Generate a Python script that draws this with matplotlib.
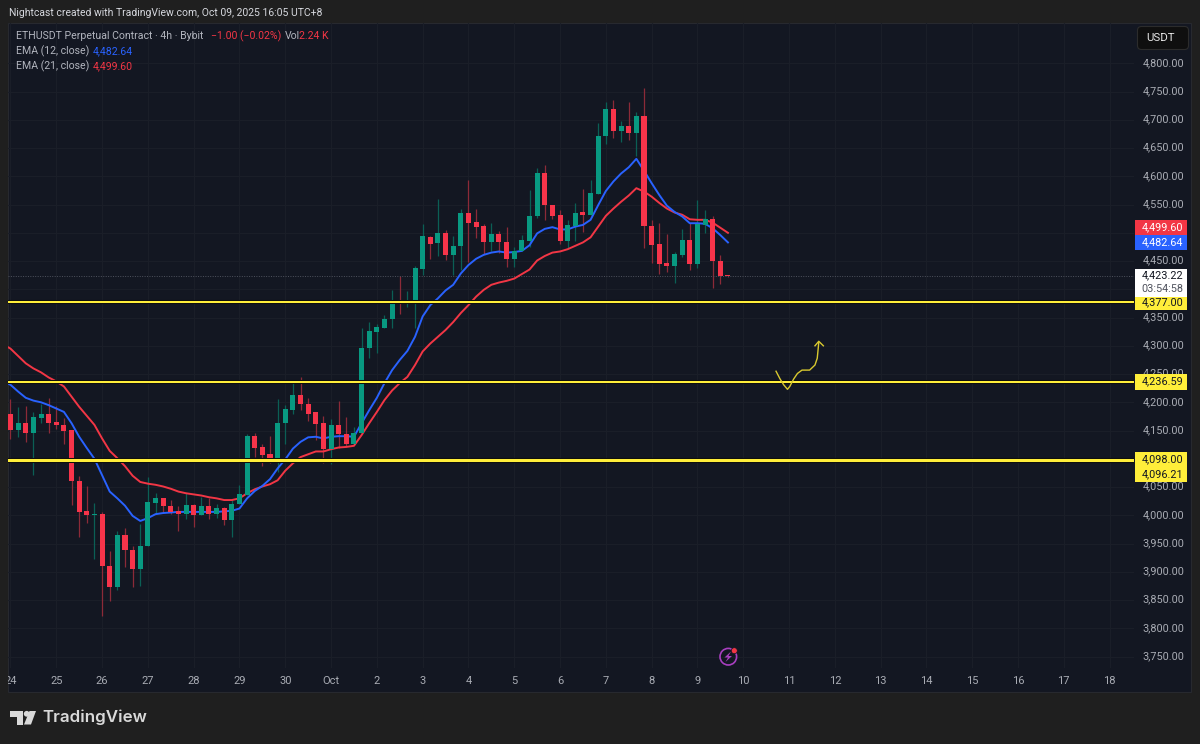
import numpy as np
import matplotlib
matplotlib.use("Agg")
import matplotlib.pyplot as plt
from matplotlib.patches import Rectangle, FancyBboxPatch, Circle, Polygon
from matplotlib.transforms import ScaledTranslation

plt.rcParams['font.family'] = ['Roboto', 'DejaVu Sans']

# 4h candles, first one is Sep 24 00:00
opens = [4179, 4151, 4163, 4146, 4173, 4180, 4165, 4160, 4151, 4061, 4007, 4001, 4002, 3911, 3873, 3966,
         3939, 3905, 3945, 4022, 4031, 4017, 4007, 4002, 4018, 4001, 4017, 4002, 4013, 3992, 4020, 4036,
         4140, 4121, 4108, 4101, 4163, 4186, 4213, 4197, 4182, 4163, 4117, 4159, 4144, 4127, 4145, 4296,
         4325, 4332, 4347, 4378, 4375, 4378, 4436, 4493, 4482, 4500, 4461, 4477, 4535, 4519, 4512, 4484,
         4498, 4483, 4453, 4467, 4486, 4530, 4606, 4549, 4531, 4485, 4512, 4536, 4531, 4569, 4671, 4720,
         4681, 4689, 4677, 4707, 4512, 4480, 4446, 4442, 4461, 4487, 4445, 4514, 4525, 4450, 4424]
closes = [4151, 4163, 4146, 4174, 4180, 4163, 4159, 4150, 4061, 4006, 4001, 4002, 3911, 3873, 3965, 3939,
          3905, 3945, 4023, 4031, 4017, 4006, 4002, 4018, 4001, 4017, 4002, 4013, 3992, 4020, 4038, 4140,
          4120, 4107, 4101, 4164, 4188, 4213, 4197, 4180, 4162, 4117, 4159, 4144, 4127, 4145, 4297, 4326,
          4333, 4347, 4377, 4375, 4378, 4437, 4494, 4481, 4500, 4460, 4477, 4535, 4517, 4511, 4484, 4498,
          4483, 4453, 4467, 4487, 4530, 4606, 4549, 4530, 4485, 4513, 4535, 4532, 4570, 4671, 4720, 4681,
          4689, 4677, 4707, 4512, 4479, 4445, 4442, 4462, 4487, 4445, 4515, 4525, 4450, 4424, 4423]
highs = [4206, 4191, 4193, 4183, 4197, 4207, 4193, 4172, 4151, 4070, 4052, 4022, 4006, 3937, 3973, 3977,
         3946, 3985, 4068, 4040, 4031, 4027, 4017, 4039, 4020, 4033, 4030, 4020, 4015, 4027, 4054, 4144,
         4145, 4126, 4140, 4206, 4195, 4235, 4245, 4207, 4183, 4176, 4170, 4202, 4174, 4157, 4331, 4343,
         4338, 4354, 4399, 4424, 4397, 4442, 4516, 4495, 4559, 4505, 4495, 4542, 4594, 4542, 4516, 4517,
         4504, 4511, 4475, 4496, 4575, 4614, 4620, 4550, 4540, 4523, 4552, 4578, 4593, 4694, 4732, 4735,
         4698, 4731, 4713, 4756, 4523, 4517, 4498, 4466, 4506, 4517, 4558, 4540, 4530, 4461, 4425]
lows = [4135, 4138, 4129, 4072, 4164, 4145, 4153, 4127, 4019, 3961, 3987, 3922, 3822, 3848, 3867, 3908,
        3873, 3875, 3945, 4002, 4005, 4002, 3972, 3994, 3980, 4000, 3994, 3996, 3982, 3962, 4020, 4036,
        4103, 4087, 4093, 4077, 4126, 4180, 4186, 4167, 4133, 4093, 4091, 4120, 4123, 4127, 4145, 4278,
        4287, 4331, 4331, 4356, 4369, 4331, 4425, 4454, 4459, 4452, 4425, 4434, 4449, 4490, 4462, 4468,
        4464, 4439, 4439, 4467, 4475, 4527, 4523, 4524, 4480, 4474, 4486, 4502, 4531, 4569, 4658, 4668,
        4661, 4664, 4636, 4473, 4446, 4427, 4431, 4411, 4458, 4434, 4437, 4499, 4403, 4409, 4422]

# first value sits one candle before the visible range
ema12 = [4238, 4231, 4219, 4208, 4203, 4200, 4195, 4189, 4183, 4163, 4139, 4119, 4100, 4071, 4042, 4030, 4017,
         3999, 3990, 3995, 4002, 4004, 4005, 4006, 4006, 4006, 4006, 4006, 4006, 4007, 4008, 4012, 4030,
         4043, 4052, 4064, 4083, 4099, 4118, 4130, 4138, 4139, 4136, 4139, 4140, 4140, 4139, 4163, 4186,
         4208, 4234, 4257, 4275, 4291, 4316, 4352, 4372, 4384, 4398, 4408, 4428, 4443, 4454, 4461, 4465,
         4467, 4465, 4466, 4468, 4478, 4499, 4507, 4510, 4506, 4506, 4511, 4514, 4523, 4549, 4574, 4591,
         4605, 4616, 4631, 4610, 4588, 4567, 4548, 4537, 4529, 4517, 4517, 4516, 4508, 4496, 4483]
ema21 = [4303, 4295, 4282, 4269, 4260, 4253, 4244, 4237, 4228, 4210, 4192, 4176, 4160, 4136, 4114, 4101, 4087,
         4070, 4059, 4056, 4054, 4051, 4047, 4042, 4039, 4037, 4035, 4032, 4030, 4027, 4027, 4030, 4039,
         4046, 4051, 4055, 4062, 4079, 4092, 4103, 4108, 4113, 4113, 4117, 4120, 4121, 4123, 4142, 4163,
         4183, 4204, 4221, 4234, 4245, 4266, 4290, 4304, 4316, 4328, 4342, 4358, 4372, 4387, 4399, 4408,
         4412, 4415, 4419, 4427, 4435, 4451, 4459, 4465, 4467, 4471, 4477, 4483, 4492, 4511, 4530, 4543,
         4555, 4566, 4579, 4573, 4564, 4553, 4543, 4536, 4532, 4524, 4523, 4523, 4518, 4509, 4500]

day_labels = ['24', '25', '26', '27', '28', '29', '30', 'Oct', '2', '3', '4', '5', '6', '7', '8', '9',
              '10', '11', '12', '13', '14', '15', '16', '17', '18']
price_ticks = [3750, 3800, 3850, 3900, 3950, 4000, 4050, 4150, 4200, 4250, 4300, 4350,
               4450, 4550, 4600, 4650, 4700, 4750, 4800]
levels = [4377.00, 4236.59, 4098.00, 4096.21]
last_price = 4423.22

# hand drawn arrow on the chart, candle index / price
sketch_x = [100.3, 100.8, 101.3, 101.8, 102.1, 102.6, 103.1, 103.7, 104.7, 105.4, 105.7, 105.9]
sketch_y = [4255, 4242, 4231, 4223, 4228, 4241, 4251, 4257, 4257, 4266, 4278, 4306]
arrow_x = [105.4, 105.9, 106.5]
arrow_y = [4300, 4308, 4300]

BG = '#1f1f1f'
PANE = '#131722'
GRID = '#1a1e28'
UP = '#089981'
DOWN = '#f7344a'
UP_WICK = '#0b5f55'
DOWN_WICK = '#8c2a38'
YELLOW = '#ffee3a'
AXIS_TXT = '#a9acb4'
LEGEND_TXT = '#b2b5be'

fig = plt.figure(figsize=(12, 7.44), dpi=100, facecolor=BG)
fig.add_artist(Rectangle((8.3 / 1200, 1 - 692 / 744), (1191 - 8.3) / 1200, (692 - 23) / 744,
                         transform=fig.transFigure, facecolor=PANE, edgecolor='#27292f', lw=0.8, zorder=-1))

ax = fig.add_axes([8.3 / 1200, 1 - 668 / 744, (1134 - 8.3) / 1200, (668 - 23) / 744])
ax.patch.set_visible(False)
for s in ax.spines.values():
    s.set_visible(False)

idx = np.arange(len(closes))
o = np.array(opens, dtype=float)
c = np.array(closes, dtype=float)
is_up = c >= o

ax.vlines(idx, lows, highs, colors=[UP_WICK if u else DOWN_WICK for u in is_up], lw=0.9, zorder=2)
ema_idx = np.arange(len(ema12)) - 1
ax.plot(ema_idx, ema21, color='#f23645', lw=1.4, zorder=3)
ax.plot(ema_idx, ema12, color='#2962ff', lw=1.4, zorder=3)
ax.bar(idx, np.maximum(np.abs(c - o), 2), bottom=np.minimum(o, c), width=0.66,
       color=[UP if u else DOWN for u in is_up], zorder=4)

ax.axhline(last_price, color='#4f535e', lw=0.7, ls=(0, (1, 1.5)), zorder=2)
for lev in levels:
    ax.axhline(lev, color='#06070a', lw=2.9, zorder=5)
for lev in levels:
    ax.axhline(lev, color=YELLOW, lw=1.5, zorder=6)

ax.plot(sketch_x, sketch_y, color='#d9c92f', lw=1.0, zorder=7)
ax.plot(arrow_x, arrow_y, color='#d9c92f', lw=1.0, zorder=7)

ax.set_xlim(-0.288, 147.2)
ax.set_ylim(3729.7, 4871.4)
ax.set_xticks(np.arange(len(day_labels)) * 6)
ax.set_xticklabels(day_labels)
ax.set_yticks(price_ticks)
ax.set_yticklabels([f'{v:,.2f}' for v in price_ticks])
ax.yaxis.tick_right()
ax.tick_params(axis='y', length=0, pad=6.2, labelsize=7.8, labelcolor=AXIS_TXT)
ax.tick_params(axis='x', length=0, pad=6, labelsize=8.0, labelcolor=AXIS_TXT)
ax.grid(True, color=GRID, lw=0.8)
ax.set_axisbelow(True)
# 4,500 / 4,400 / 4,100 are hidden behind the price boxes so they are left out above
for v in [4100, 4400, 4500]:
    ax.axhline(v, color=GRID, lw=0.8, zorder=0.5)
# labels sit a bit above their grid line in the original
up_shift = ScaledTranslation(0, 1.5 / 100, fig.dpi_scale_trans)
for lab in ax.get_yticklabels():
    lab.set_transform(lab.get_transform() + up_shift)

# everything around the plot is placed in pixels on a full size overlay
ov = fig.add_axes([0, 0, 1, 1], zorder=5)
ov.set_xlim(0, 1200)
ov.set_ylim(744, 0)
ov.axis('off')


def txt(x, y, s, color=LEGEND_TXT, size=7.6, ha='left', **kw):
    return ov.text(x, y, s, color=color, fontsize=size, ha=ha, va='center', **kw)


def price_box(y0, y1, bg, rows):
    ov.add_patch(Rectangle((1135, y0), 52, y1 - y0, facecolor=bg, edgecolor='none'))
    for y, s, col in rows:
        txt(1183, y, s, color=col, size=7.8, ha='right')


ov.add_patch(Rectangle((0, 660), 8.3, 32, facecolor=BG, edgecolor='none'))

price_box(220, 235, '#f23645', [(227.5, '4,499.60', 'white')])
price_box(235, 250, '#2962ff', [(242.5, '4,482.64', 'white')])
price_box(268.5, 297, 'white', [(275.5, '4,423.22', '#131722'), (288.5, '03:54:58', '#50535e')])
price_box(297, 310, YELLOW, [(302.5, '4,377.00', '#131722')])
price_box(374, 389.5, YELLOW, [(381.5, '4,236.59', '#131722')])
price_box(451.5, 481.5, YELLOW, [(459, '4,098.00', '#131722'), (474, '4,096.21', '#131722')])

ov.add_patch(FancyBboxPatch((1140, 29), 46, 18, boxstyle='round,pad=2.5,rounding_size=4',
                            facecolor='#0f0f0f', edgecolor='#2c2c2c', lw=0.8))
txt(1146, 38, 'USDT', color='#e6e6e6', size=8.2)

txt(9, 13, 'Nightcast created with TradingView.com, Oct 09, 2025 16:05 UTC+8', color='#d6d8de', size=7.5)
txt(16, 36, 'ETHUSDT Perpetual Contract · 4h · Bybit')
txt(211, 36, '−1.00 (−0.02%)', color='#f23645')
txt(285, 36, 'Vol')
txt(299, 36, '2.24 K', color='#f23645')
txt(16, 51, 'EMA (12, close)')
txt(93, 51, '4,482.64', color='#2962ff')
txt(16, 66, 'EMA (21, close)')
txt(93, 66, '4,499.60', color='#f23645')

# alert icon
ov.add_patch(Circle((728.3, 656.7), 8.3, facecolor='none', edgecolor='#a83fc0', lw=1.2))
ov.add_patch(Polygon([(731, 651.5), (724.5, 657.5), (728, 657.5), (725.5, 662), (732, 656), (728.5, 656)],
                     closed=True, facecolor='#a83fc0', edgecolor='none'))
ov.add_patch(Circle((734.3, 650.7), 3.0, facecolor='#f23645', edgecolor=PANE, lw=0.5))

# tradingview logo
LOGO = '#d9d9d9'
ov.add_patch(Polygon([(10, 711), (23, 711), (23, 724.5), (17, 724.5), (17, 717), (10, 717)],
                     closed=True, facecolor=LOGO, edgecolor='none'))
ov.add_patch(Circle((26.7, 713.8), 2.9, facecolor=LOGO, edgecolor='none'))
ov.add_patch(Polygon([(29.5, 711), (36, 711), (31, 724.5), (24, 724.5)], closed=True, facecolor=LOGO, edgecolor='none'))
txt(42.5, 717.5, 'TradingView', color=LOGO, size=12.2, family='Inter', fontweight='semibold')

fig.savefig('out.png', dpi=100, facecolor=BG)
